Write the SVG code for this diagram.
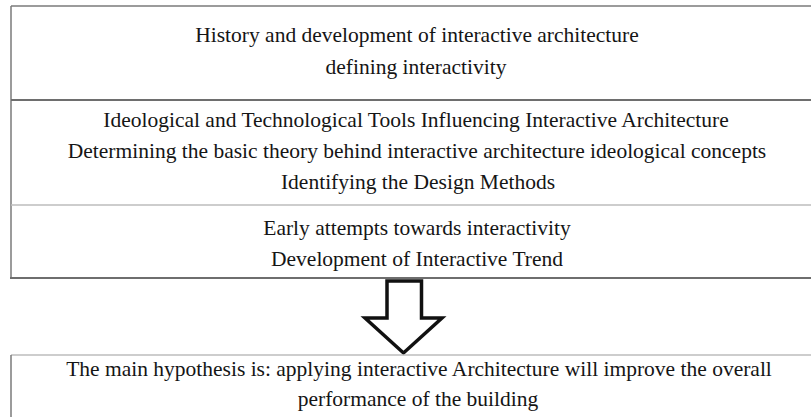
<svg xmlns="http://www.w3.org/2000/svg" width="811" height="417" viewBox="0 0 811 417">
  <style>
    .txt { font-family: "Liberation Serif", "Times New Roman", serif; font-size: 21.5px; fill: #151515; text-anchor: middle; }
    .frame { fill: none; stroke: #7a7a7a; stroke-width: 1.5; }
    .rule-dark { stroke: #6e6e6e; stroke-width: 2; }
    .rule-light { stroke: #bdbdbd; stroke-width: 1.6; }
    .arrow { fill: #ffffff; stroke: #111111; stroke-width: 3.5; stroke-linejoin: miter; }
  </style>

  <rect x="0" y="0" width="811" height="417" fill="#ffffff"/>

  <!-- Stacked research steps (table runs past the right edge) -->
  <g id="steps-table">
    <line class="frame" x1="11" y1="6" x2="811" y2="6"/>
    <line class="frame" x1="11" y1="6" x2="11" y2="278"/>
    <line class="rule-dark" x1="11" y1="100" x2="811" y2="100"/>
    <line class="rule-light" x1="11" y1="205" x2="811" y2="205"/>
    <line class="rule-dark" x1="10" y1="278" x2="811" y2="278"/>
  </g>

  <g id="step-history">
    <text class="txt" x="417" y="42">History and development of interactive architecture</text>
    <text class="txt" x="416" y="74">defining interactivity</text>
  </g>

  <g id="step-tools">
    <text class="txt" x="416" y="127">Ideological and Technological Tools Influencing Interactive Architecture</text>
    <text class="txt" x="417" y="158">Determining the basic theory behind interactive architecture ideological concepts</text>
    <text class="txt" x="418" y="189">Identifying the Design Methods</text>
  </g>

  <g id="step-trend">
    <text class="txt" x="417" y="235">Early attempts towards interactivity</text>
    <text class="txt" x="417" y="266">Development of Interactive Trend</text>
  </g>

  <!-- Block arrow leading to the hypothesis -->
  <g id="connectors">
    <polygon class="arrow" points="387,281 421.5,281 421.5,318 442,318 403.5,353 365,318 387,318"/>
  </g>

  <g id="hypothesis">
    <line class="rule-light" x1="11" y1="355" x2="811" y2="355"/>
    <line class="frame" x1="11" y1="355" x2="11" y2="417"/>
    <text class="txt" x="419" y="376">The main hypothesis is: applying interactive Architecture will improve the overall</text>
    <text class="txt" x="418" y="406">performance of the building</text>
  </g>
</svg>
